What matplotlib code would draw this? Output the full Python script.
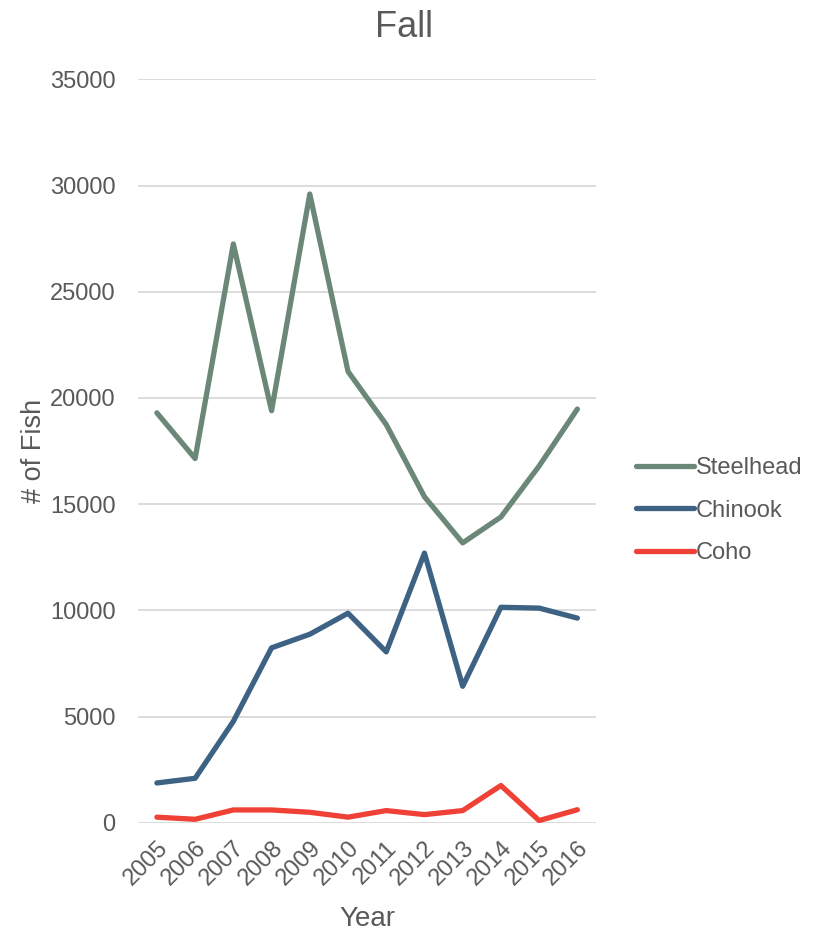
import matplotlib.pyplot as plt

plt.rcParams['font.family'] = ['Liberation Sans', 'DejaVu Sans']

years = [2005, 2006, 2007, 2008, 2009, 2010, 2011, 2012, 2013, 2014, 2015, 2016]
steelhead = [19300, 17150, 27250, 19400, 29600, 21250, 18750, 15350, 13180, 14400, 16800, 19480]
chinook = [1880, 2100, 4780, 8240, 8880, 9870, 8050, 12700, 6430, 10150, 10110, 9640]
coho = [270, 170, 610, 610, 500, 270, 580, 390, 580, 1760, 110, 620]

series_names = ["Steelhead", "Chinook", "Coho"]
series_colors = ["#6B8777", "#3E6283", "#EF4136"]
text_color = "#595959"

fig = plt.figure(figsize=(8.25, 9.33), dpi=100)
ax = fig.add_axes([0.167, 0.118, 0.556, 0.797])

for vals, name, col in zip([steelhead, chinook, coho], series_names, series_colors):
    ax.plot(years, vals, color=col, linewidth=3.8, label=name, solid_capstyle='round')

ax.set_ylim(0, 35000)
ax.set_yticks(range(0, 35001, 5000))
ax.set_xlim(2005 - 0.5, 2016 + 0.5)
ax.set_xticks(years)
ax.set_xticklabels([str(y) for y in years], rotation=45, ha='right', rotation_mode='anchor')

ax.grid(axis='y', color='#D9D9D9', linewidth=1.3)
ax.set_axisbelow(True)
for s in ax.spines.values():
    s.set_visible(False)
ax.tick_params(length=0, labelsize=17, colors=text_color)
ax.tick_params(axis='y', pad=16)
ax.tick_params(axis='x', pad=10)

fig.text(0.49, 0.97, "Fall", fontsize=26, color=text_color, ha='center', va='center')
ax.set_xlabel("Year", fontsize=20, color=text_color, labelpad=12)
ax.set_ylabel("# of Fish", fontsize=19.5, color=text_color, labelpad=2)

leg = ax.legend(loc='center left', bbox_to_anchor=(1.087, 0.42), frameon=False,
                borderaxespad=0, borderpad=0,
                fontsize=17, handlelength=2.45, handletextpad=0.08, labelspacing=0.88)
for t in leg.get_texts():
    t.set_color(text_color)

fig.savefig("out.png", dpi=100)
